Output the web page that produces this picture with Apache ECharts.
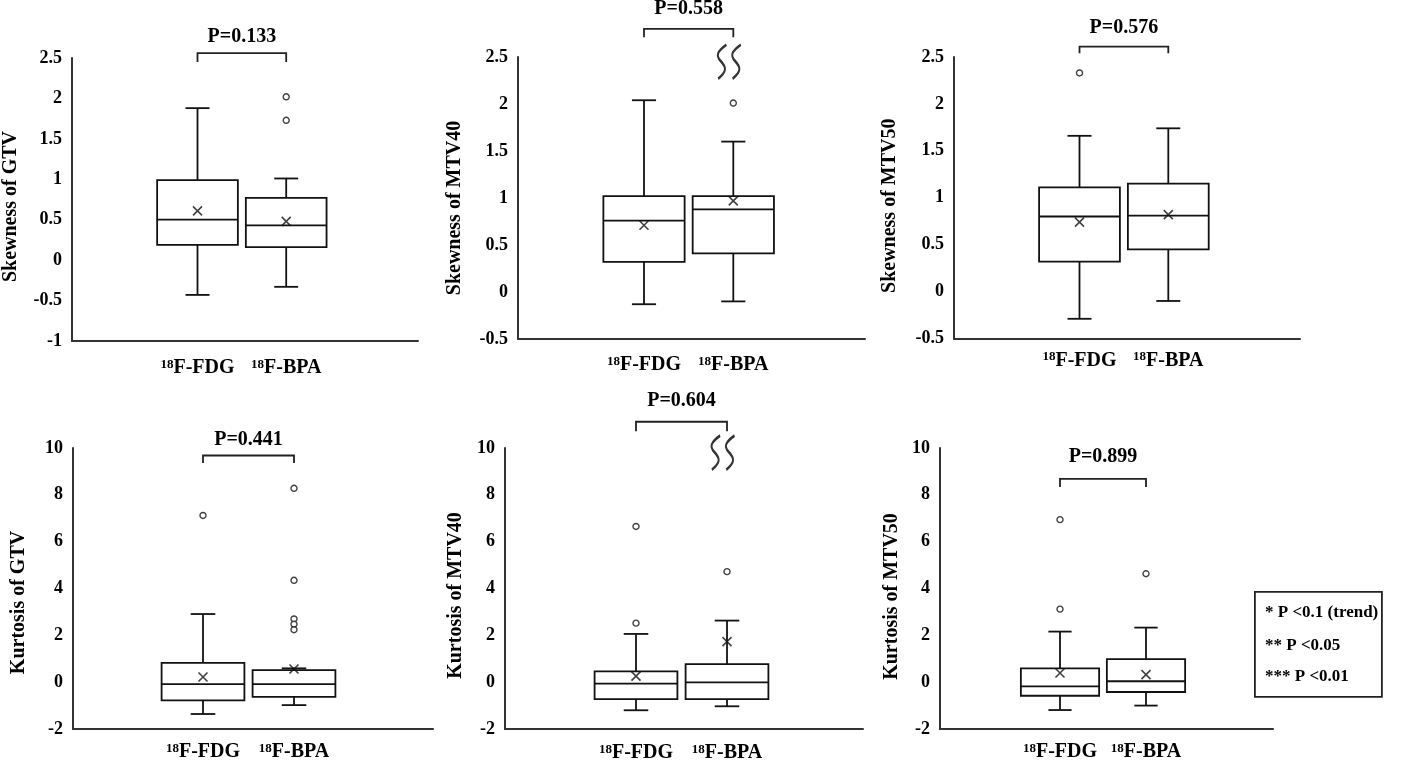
<!DOCTYPE html>
<html>
<head>
<meta charset="utf-8">
<title>Skewness / Kurtosis box plots</title>
<script src="https://cdn.jsdelivr.net/npm/echarts@6/dist/echarts.min.js"></script>
<style>
  html, body { margin: 0; padding: 0; background: #fff; }
  #main { width: 1416px; height: 761px; }
</style>
</head>
<body>
<div id="main"></div>
<script>
// groups on the x axis
var groups = ['18F-FDG', '18F-BPA'];

// box stats per group: [min, q1, median, q3, max]
var skewGtvStats = [[-0.43, 0.19, 0.50, 0.99, 1.88], [-0.33, 0.16, 0.43, 0.77, 1.01]];
var skewGtvMeans = [0.61, 0.48];
var skewGtvOutliers = [[], [2.02, 1.73]];

var skewMtv40Stats = [[-0.13, 0.32, 0.76, 1.02, 2.04], [-0.10, 0.41, 0.88, 1.02, 1.60]];
var skewMtv40Means = [0.71, 0.97];
var skewMtv40Outliers = [[], [2.01]];

var skewMtv50Stats = [[-0.29, 0.32, 0.80, 1.11, 1.66], [-0.10, 0.45, 0.81, 1.15, 1.74]];
var skewMtv50Means = [0.74, 0.82];
var skewMtv50Outliers = [[2.33], []];

var kurtGtvStats = [[-1.36, -0.78, -0.08, 0.82, 2.91], [-0.98, -0.63, -0.08, 0.51, 0.59]];
var kurtGtvMeans = [0.22, 0.56];
var kurtGtvOutliers = [[7.12], [8.28, 4.35, 2.70, 2.48, 2.24]];

var kurtMtv40Stats = [[-1.20, -0.72, -0.06, 0.46, 2.06], [-1.03, -0.72, -0.01, 0.77, 2.63]];
var kurtMtv40Means = [0.26, 1.73];
var kurtMtv40Outliers = [[6.65, 2.52], [4.72]];

var kurtMtv50Stats = [[-1.19, -0.58, -0.18, 0.59, 2.16], [-1.00, -0.42, 0.04, 0.98, 2.33]];
var kurtMtv50Means = [0.39, 0.32];
var kurtMtv50Outliers = [[6.94, 3.12], [4.63]];

var yTitles = ['Skewness of GTV', 'Skewness of MTV40', 'Skewness of MTV50',
               'Kurtosis of GTV', 'Kurtosis of MTV40', 'Kurtosis of MTV50'];
var pLabels = ['P=0.133', 'P=0.558', 'P=0.576', 'P=0.441', 'P=0.604', 'P=0.899'];
var noteLines = ['* P <0.1 (trend)', '** P <0.05', '*** P <0.01'];

var FONT = '"Liberation Serif", "Times New Roman", serif';
var BREAK_PATH = 'path://M28,0 C5,20 2,32 14,48 C28,66 30,78 8,100 M63,0 C40,20 37,32 49,48 C63,66 65,78 43,100';
var CROSS_PATH = 'path://M0,0L10,10M0,10L10,0';

// layout of each panel (pixels) + bracket/break heights (axis units)
var panels = [
  {stats: skewGtvStats, means: skewGtvMeans, outliers: skewGtvOutliers,
   frame: [72, 58, 346, 283], centers: [197.5, 286.2], yMin: -1, yMax: 2.5, step: 0.5,
   bracket: [2.45, 2.56], pGap: 16, brk: null, nameGap: 51, nameShift: 7, labelMargin: 17},
  {stats: skewMtv40Stats, means: skewMtv40Means, outliers: skewMtv40Outliers,
   frame: [518, 57, 347, 282], centers: [644, 733.3], yMin: -0.5, yMax: 2.5, step: 0.5,
   bracket: [2.71, 2.80], pGap: 20, brk: 2.45, nameGap: 53, nameShift: 10, labelMargin: 16},
  {stats: skewMtv50Stats, means: skewMtv50Means, outliers: skewMtv50Outliers,
   frame: [954, 57, 346, 281.5], centers: [1079.5, 1168.3], yMin: -0.5, yMax: 2.5, step: 0.5,
   bracket: [2.54, 2.61], pGap: 19, brk: null, nameGap: 54, nameShift: 8, labelMargin: 12},
  {stats: kurtGtvStats, means: kurtGtvMeans, outliers: kurtGtvOutliers,
   frame: [73, 448, 360, 281], centers: [203, 294], yMin: -2, yMax: 10, step: 2,
   bracket: [9.36, 9.68], pGap: 16, brk: null, nameGap: 44, nameShift: 14, labelMargin: 13},
  {stats: kurtMtv40Stats, means: kurtMtv40Means, outliers: kurtMtv40Outliers,
   frame: [505, 448, 358, 281], centers: [636, 727], yMin: -2, yMax: 10, step: 2,
   bracket: [10.71, 11.12], pGap: 21, brk: 9.8, nameGap: 39, nameShift: 7, labelMargin: 14},
  {stats: kurtMtv50Stats, means: kurtMtv50Means, outliers: kurtMtv50Outliers,
   frame: [940, 448, 333, 281], centers: [1060, 1146], yMin: -2, yMax: 10, step: 2,
   bracket: [8.33, 8.68], pGap: 22, brk: null, nameGap: 38, nameShift: 8, labelMargin: 13}
];

function renderBox(params, api) {
  var x = api.value(0);
  var lo = api.coord([x, api.value(1)]);
  var q1 = api.coord([x, api.value(2)]);
  var med = api.coord([x, api.value(3)]);
  var q3 = api.coord([x, api.value(4)]);
  var hi = api.coord([x, api.value(5)]);
  var band = api.size([1, 0])[0];
  var bw = band * 0.455, cw = band * 0.135;
  var cx = lo[0];
  var st = {stroke: '#111', lineWidth: 1.8};
  return {
    type: 'group',
    children: [
      {type: 'line', shape: {x1: cx, y1: hi[1], x2: cx, y2: q3[1]}, style: st},
      {type: 'line', shape: {x1: cx, y1: q1[1], x2: cx, y2: lo[1]}, style: st},
      {type: 'line', shape: {x1: cx - cw, y1: hi[1], x2: cx + cw, y2: hi[1]}, style: st},
      {type: 'line', shape: {x1: cx - cw, y1: lo[1], x2: cx + cw, y2: lo[1]}, style: st},
      {type: 'rect', shape: {x: cx - bw, y: q3[1], width: 2 * bw, height: q1[1] - q3[1]},
       style: {stroke: '#111', lineWidth: 1.8, fill: '#fff'}},
      {type: 'line', shape: {x1: cx - bw, y1: med[1], x2: cx + bw, y2: med[1]}, style: st}
    ]
  };
}

function bracketRenderer(label, gap) {
  return function (params, api) {
    var a0 = api.coord([0, api.value(2)]), a1 = api.coord([0, api.value(1)]);
    var b0 = api.coord([1, api.value(2)]), b1 = api.coord([1, api.value(1)]);
    return {
      type: 'group',
      children: [
        {type: 'polyline',
         shape: {points: [[a0[0], a1[1]], [a0[0], a0[1]], [b0[0], b0[1]], [b0[0], b1[1]]]},
         style: {stroke: '#222', lineWidth: 1.8, fill: null}},
        {type: 'text', x: (a0[0] + b0[0]) / 2, y: a0[1] - gap,
         style: {text: label, fill: '#000', fontSize: 20, fontWeight: 'bold', fontFamily: FONT,
                 align: 'center', verticalAlign: 'middle'}}
      ]
    };
  };
}

var grid = [], xAxis = [], yAxis = [], series = [];

panels.forEach(function (p, i) {
  var f = p.frame;
  var d = p.centers[1] - p.centers[0];
  var fi = 2 * i, bi = 2 * i + 1;

  // frame grid: visible axes
  grid.push({left: f[0], top: f[1], width: f[2], height: f[3], outerBoundsMode: 'none'});
  xAxis.push({
    gridIndex: fi, type: 'value', min: 0, max: 1,
    axisLine: {show: true, onZero: false, lineStyle: {color: '#333', width: 2}},
    axisTick: {show: false}, axisLabel: {show: false}, splitLine: {show: false}
  });
  yAxis.push({
    gridIndex: fi, type: 'value', min: p.yMin, max: p.yMax, interval: p.step,
    name: yTitles[i], nameLocation: 'middle', nameGap: p.nameGap,
    nameTextStyle: {color: '#000', fontSize: 20, fontWeight: 'bold', fontFamily: FONT,
                    padding: [0, 2 * p.nameShift, 0, 0]},
    axisLine: {show: true, onZero: false, lineStyle: {color: '#333', width: 2}},
    axisTick: {show: false}, splitLine: {show: false},
    axisLabel: {color: '#000', fontSize: 18, fontWeight: 'bold', fontFamily: FONT, margin: 10,
                padding: [6, 0, 0, 0]}
  });

  // box grid: the two groups centred on their boxes
  grid.push({left: p.centers[0] - d / 2, top: f[1], width: 2 * d, height: f[3], outerBoundsMode: 'none'});
  xAxis.push({
    gridIndex: bi, type: 'category', data: groups,
    axisLine: {show: false, onZero: false}, axisTick: {show: false}, splitLine: {show: false},
    axisLabel: {
      margin: p.labelMargin, interval: 0,
      formatter: function (v) { return '{s|' + v.slice(0, 2) + '}{m|' + v.slice(2) + '}'; },
      rich: {
        s: {fontSize: 13, fontWeight: 'bold', fontFamily: FONT, color: '#000', verticalAlign: 'top'},
        m: {fontSize: 20, fontWeight: 'bold', fontFamily: FONT, color: '#000'}
      }
    }
  });
  yAxis.push({gridIndex: bi, type: 'value', min: p.yMin, max: p.yMax, show: false});

  series.push({
    type: 'custom', xAxisIndex: bi, yAxisIndex: bi, renderItem: renderBox, clip: false,
    encode: {x: 0, y: [1, 2, 3, 4, 5]},
    data: p.stats.map(function (s, k) { return [k].concat(s); }),
    z: 2
  });

  var out = [];
  p.outliers.forEach(function (list, k) {
    list.forEach(function (v) { out.push([k, v]); });
  });
  series.push({
    type: 'scatter', xAxisIndex: bi, yAxisIndex: bi, data: out,
    symbol: 'circle', symbolSize: 6,
    itemStyle: {color: '#fff', borderColor: '#111', borderWidth: 1.4}, z: 3
  });
  series.push({
    type: 'scatter', xAxisIndex: bi, yAxisIndex: bi,
    data: p.means.map(function (m, k) { return [k, m]; }),
    symbol: CROSS_PATH, symbolSize: 9,
    itemStyle: {color: 'rgba(0,0,0,0)', borderColor: '#111', borderWidth: 1.6}, z: 4
  });
  series.push({
    type: 'custom', xAxisIndex: bi, yAxisIndex: bi, clip: false,
    renderItem: bracketRenderer(pLabels[i], p.pGap),
    encode: {x: 0, y: [1, 2]},
    data: [[0, p.bracket[0], p.bracket[1]]], z: 3
  });
  if (p.brk !== null) {
    series.push({
      type: 'scatter', xAxisIndex: bi, yAxisIndex: bi, data: [[1, p.brk]],
      symbol: BREAK_PATH, symbolSize: [23, 34], symbolOffset: [-4, 0],
      itemStyle: {color: 'rgba(0,0,0,0)', borderColor: '#000', borderWidth: 2.4}, z: 3
    });
  }
});

var graphic = [{
  type: 'rect', left: 1254, top: 591,
  shape: {width: 127, height: 105},
  style: {fill: '#fff', stroke: '#222', lineWidth: 1.8}
}];
var noteY = [604, 637, 668];
noteLines.forEach(function (t, k) {
  graphic.push({
    type: 'text', left: 1265, top: noteY[k],
    style: {text: t, fill: '#000', fontSize: 17, fontWeight: 'bold', fontFamily: FONT}
  });
});

var myChart = echarts.init(document.getElementById('main'));
var option = {
  backgroundColor: '#fff',
  animation: false,
  grid: grid,
  xAxis: xAxis,
  yAxis: yAxis,
  series: series,
  graphic: graphic
};
myChart.setOption(option);
window.addEventListener('resize', function () {
  myChart.resize();
});
</script>
</body>
</html>
